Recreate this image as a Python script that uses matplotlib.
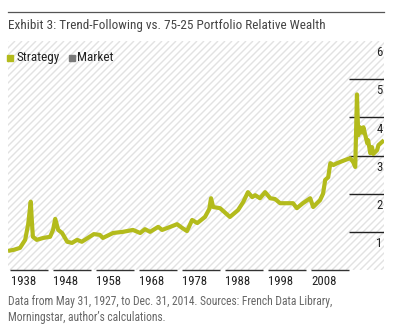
import matplotlib
matplotlib.use("Agg")
import matplotlib.pyplot as plt
from matplotlib import font_manager
from matplotlib.collections import LineCollection
from matplotlib.lines import Line2D

# ---- data -------------------------------------------------------------
years = [1927.4, 1928.8, 1930.2, 1931.4, 1932.1, 1932.7, 1933.0, 1933.2, 1934.1,
         1935.6, 1937.2, 1937.9, 1938.4, 1939.1, 1940.0, 1941.2, 1942.3, 1943.5,
         1944.6, 1946.0, 1947.4, 1948.8, 1949.5, 1951.9, 1954.2, 1956.5, 1958.2,
         1959.3, 1960.5, 1962.4, 1963.3, 1965.2, 1966.8, 1968.0, 1969.1, 1970.3,
         1971.5, 1973.3, 1974.3, 1974.7, 1975.2, 1976.8, 1979.1, 1981.0, 1982.2,
         1983.3, 1984.3, 1985.0, 1986.1, 1987.3, 1988.5, 1989.6, 1990.8, 1993.8,
         1994.7, 1996.1, 1997.8, 1998.5, 2000.1, 2000.8, 2001.3, 2002.0, 2002.5,
         2003.2, 2004.1, 2005.9, 2007.1, 2007.8, 2008.3, 2008.7, 2009.0, 2009.4,
         2009.9, 2010.2, 2011.1, 2011.3, 2011.8, 2012.2, 2012.5, 2013.4, 2013.7,
         2015.0]
strategy = [0.50, 0.53, 0.58, 0.79, 1.20, 1.79, 1.20, 0.87, 0.79,
            0.84, 0.87, 1.05, 1.34, 1.05, 0.97, 0.74, 0.71, 0.79,
            0.74, 0.84, 0.94, 0.92, 0.84, 0.97, 1.00, 1.05, 0.97,
            1.07, 1.00, 1.13, 1.05, 1.13, 1.20, 1.10, 1.02, 1.31,
            1.23, 1.39, 1.60, 1.88, 1.65, 1.62, 1.39, 1.57, 1.78,
            2.04, 1.91, 1.96, 1.88, 2.04, 1.88, 1.86, 1.75, 1.75,
            1.62, 1.75, 1.88, 1.65, 1.83, 2.00, 2.36, 2.43, 2.80,
            2.75, 2.80, 2.88, 2.93, 2.83, 2.70, 4.60, 3.53, 3.74,
            3.60, 3.74, 3.32, 3.40, 3.06, 3.22, 3.04, 3.14, 3.27,
            3.40]
decade_labels = ["1938", "1948", "1958", "1968", "1978", "1988", "1998", "2008"]
decade_starts = [1927.9, 1937.9, 1947.9, 1957.9, 1967.9, 1977.9, 1987.9, 1997.9]
y_values = [1, 2, 3, 4, 5, 6]
legend_names = ["Strategy", "Market"]

# ---- style ------------------------------------------------------------
available = {f.name for f in font_manager.fontManager.ttflist}
family = next((f for f in ["Liberation Sans Narrow", "Roboto Condensed",
                           "DejaVu Sans Condensed", "Liberation Sans"]
               if f in available), "DejaVu Sans")
plt.rcParams["font.family"] = [family, "DejaVu Sans"]

STRAT = "#b3bb1c"
MARKET = "#7a7a7a"
INK = "#222222"

fig = plt.figure(figsize=(4.02, 3.35), dpi=100)
W, H = 402, 335
L, R, T, B = 8, 384, 41, 270
ax = fig.add_axes([L / W, 1 - B / H, (R - L) / W, (B - T) / H])
x0, x1 = 1927.4, 2015.0
ax.set_xlim(x0, x1)
ax.set_ylim(0, 6)
for s in ax.spines.values():
    s.set_visible(False)
ax.set_xticks([])
ax.set_yticks([])

# diagonal hatching behind the plot
aw, ah = R - L, B - T
pitch = 7.0
segs = []
k = -ah
while k < aw:
    xa = k / aw
    xb = (k + ah) / aw
    segs.append([(xa, 0), (xb, 1)])
    k += pitch
hatch = LineCollection(segs, colors="#e2e2e2", linewidths=1.0,
                       transform=ax.transAxes, zorder=0)
ax.add_collection(hatch)

# short gridlines at right with value labels below them
g0 = x0 + (349 - L) / (R - L) * (x1 - x0)
for v in y_values:
    if v < 6:
        ax.plot([g0, x1], [v, v], color=INK, lw=1.0, zorder=2,
                solid_capstyle="butt")
    ax.text(x1 - 0.3, v - 0.31, str(v), ha="right", va="center",
            fontsize=9.2, color=INK)

# decade segments along the bottom
seg_len = 8.85
for lab, st in zip(decade_labels, decade_starts):
    ax.plot([st, st + seg_len], [0, 0], color="#333333", lw=1.0,
            clip_on=False, solid_capstyle="butt")
    ax.text(st + 0.1, -0.29, lab, ha="left", va="center", fontsize=9.2,
            color=INK, clip_on=False)

ax.plot(years, strategy, color=STRAT, lw=3.0, zorder=3,
        solid_joinstyle="round", solid_capstyle="butt")

# legend
ly = (B - 57.5) / (B - T)
for xm, xt, name, c in [(10, 17, legend_names[0], STRAT),
                        (72, 77, legend_names[1], MARKET)]:
    ax.add_line(Line2D([(xm - L) / aw], [ly], marker="s", markersize=3.8,
                       color=c, transform=ax.transAxes, clip_on=False))
    ax.text((xt - L) / aw, ly, name, transform=ax.transAxes,
            ha="left", va="center", fontsize=9.5, color=INK)

# header
fig.add_artist(Line2D([L / W, R / W], [1 - 12 / H, 1 - 12 / H],
                      color="#555555", lw=0.9))
fig.text(L / W, 1 - 25 / H,
         "Exhibit 3: Trend-Following vs. 75-25 Portfolio Relative Wealth",
         ha="left", va="center", fontsize=9.5, color="#444444")

# footnote
fig.text(L / W, 1 - 301 / H,
         "Data from May 31, 1927, to Dec. 31, 2014. Sources: French Data Library,",
         ha="left", va="center", fontsize=8.3, color="#666666")
fig.text(L / W, 1 - 317 / H, "Morningstar, author\u2019s calculations.",
         ha="left", va="center", fontsize=8.3, color="#666666")

fig.savefig("out.png", dpi=100)
